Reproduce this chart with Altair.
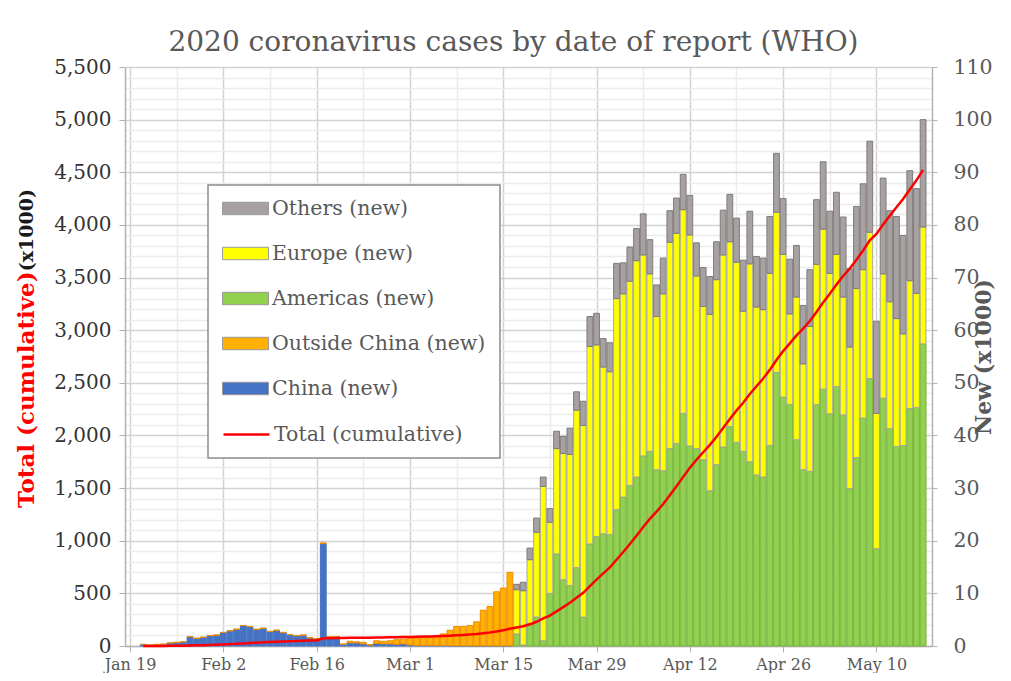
import altair as alt
import pandas as pd

# ---------------- data (daily new cases, thousands) ----------------
early_start = "2020-01-21"   # China / Outside China period
late_start = "2020-03-17"    # regional breakdown period

china_new = [0.3, 0.15, 0.29, 0.33, 0.57, 0.67, 0.76, 1.74, 1.45, 1.63, 1.97, 2.05,
             2.56, 2.87, 3.17, 3.88, 3.67, 3.15, 3.35, 2.74, 2.98, 2.53, 2.14, 1.95,
             2.03, 1.54, 1.35, 19.45, 1.7, 1.6, 0.3, 0.6, 0.6, 0.4, 0.2, 0.5, 0.4,
             0.4, 0.3, 0.4, 0.2, 0.1, 0.1, 0.1, 0.1, 0.1, 0.1, 0.05, 0.05, 0.02,
             0.02, 0.02, 0.01, 0.02, 0.02, 0.03]
outside_new = [0.0, 0.0, 0.01, 0.02, 0.03, 0.03, 0.04, 0.06, 0.05, 0.07, 0.03, 0.05,
               0.04, 0.03, 0.03, 0.02, 0.03, 0.05, 0.05, 0.06, 0.02, 0.07, 0.06, 0.05,
               0.07, 0.06, 0.05, 0.15, 0.1, 0.2, 0.1, 0.3, 0.2, 0.3, 0.05, 0.5, 0.5,
               0.6, 0.9, 0.9, 1.3, 1.4, 1.5, 1.7, 1.7, 2.2, 2.9, 3.65, 3.65, 3.88,
               4.58, 6.78, 7.49, 10.28, 10.98, 13.97]
americas_new = [2.3, 0.2, 4.3, 5.5, 1.0, 10.0, 17.5, 12.6, 11.5, 14.9, 5.5, 19.4,
                20.8, 21.3, 21.2, 25.9, 28.3, 30.5, 32.1, 36.1, 37.0, 33.5, 33.3,
                37.5, 38.5, 44.2, 38.0, 37.5, 35.4, 29.5, 34.5, 37.8, 41.7, 38.7,
                37.0, 35.0, 32.5, 32.1, 38.1, 52.0, 47.3, 45.9, 39.2, 33.5, 33.2,
                45.9, 48.8, 44.1, 49.3, 43.9, 29.9, 35.8, 43.3, 50.8, 18.5, 47.1,
                41.3, 37.9, 38.1, 45.1, 45.3, 57.4]
europe_new = [8.4, 10.3, 12.1, 16.1, 29.3, 13.5, 20.0, 24.0, 24.9, 29.9, 36.4, 37.5,
              36.4, 31.7, 30.9, 40.1, 38.6, 38.8, 41.1, 38.2, 33.7, 29.1, 33.6, 39.2,
              39.9, 38.7, 40.1, 32.8, 29.1, 33.5, 35.1, 36.5, 35.1, 34.2, 26.6, 37.6,
              31.9, 31.8, 32.7, 30.4, 27.1, 17.2, 27.1, 20.1, 27.5, 26.6, 30.4, 26.7,
              25.1, 22.4, 26.9, 32.1, 28.2, 27.8, 25.7, 23.6, 24.1, 24.3, 21.2, 24.3,
              21.7, 22.2]
others_new = [1.0, 1.6, 2.2, 2.7, 1.8, 2.6, 3.3, 3.2, 5.0, 3.5, 4.6, 5.7, 6.0, 5.4,
              5.5, 6.7, 5.9, 6.5, 6.1, 7.8, 6.5, 6.0, 6.8, 6.0, 6.7, 6.7, 7.5, 6.3,
              7.4, 7.2, 7.2, 8.5, 9.0, 8.4, 9.7, 10.0, 9.6, 9.8, 10.8, 11.2, 10.6,
              10.4, 9.8, 11.1, 10.8, 12.3, 12.8, 11.8, 11.8, 15.2, 14.9, 15.6, 16.3,
              17.3, 17.5, 18.2, 17.3, 19.4, 18.7, 20.9, 19.9, 20.4]

series_names = ["Others (new)", "Europe (new)", "Americas (new)",
                "Outside China (new)", "China (new)"]
fill_colors = ["#a7a1a1", "#ffff00", "#92d050", "#ffb000", "#4472c4"]
stroke_colors = ["#7f7b7b", "#a6a6a6", "#74b33a", "#f08c00", "#4472c4"]
stack_rank = {"China (new)": 0, "Outside China (new)": 1, "Americas (new)": 2,
              "Europe (new)": 3, "Others (new)": 4}
line_name = "Total (cumulative)"

week_ticks = pd.date_range("2020-01-19", "2020-05-10", freq="7D")

# ---------------- long table ----------------
rows = []
for d, c, o in zip(pd.date_range(early_start, periods=len(china_new), freq="D"),
                   china_new, outside_new):
    ds = d.strftime("%Y-%m-%d")
    rows.append({"date": ds, "series": "China (new)", "value": c})
    rows.append({"date": ds, "series": "Outside China (new)", "value": o})
for d, a, e, t in zip(pd.date_range(late_start, periods=len(americas_new), freq="D"),
                      americas_new, europe_new, others_new):
    ds = d.strftime("%Y-%m-%d")
    rows.append({"date": ds, "series": "Americas (new)", "value": a})
    rows.append({"date": ds, "series": "Europe (new)", "value": e})
    rows.append({"date": ds, "series": "Others (new)", "value": t})
df = pd.DataFrame(rows)
df["rank"] = df["series"].map(stack_rank)

FONT = "DejaVu Serif"
major_test = "round((datum.value - utc(2020,0,19)) / 86400000) % 14 === 0"

x_enc = alt.X(
    "date:T",
    scale=alt.Scale(type="utc",
                    domain=[alt.DateTime(year=2020, month=1, date=19, utc=True),
                            alt.DateTime(year=2020, month=5, date=17, hours=14, utc=True)]),
    axis=alt.Axis(
        values=[alt.DateTime(year=t.year, month=t.month, date=t.day, utc=True) for t in week_ticks],
        labelExpr=f"{major_test} ? utcFormat(datum.value, '%b %-d') : ''",
        labelOverlap=False,
        labelFont=FONT, labelFontSize=16, labelColor="#595959", labelPadding=4,
        grid=True,
        gridColor={"condition": {"test": major_test, "value": "#d2d2d2"}, "value": "#ececec"},
        gridWidth=1.5,
        tickColor="#b3b3b3", tickSize=6,
        tickOpacity={"condition": {"test": major_test, "value": 1}, "value": 0},
        domainColor="#b3b3b3", domainWidth=1.5,
        title=None,
    ),
)

bars = alt.Chart(df).mark_bar(size=5.8, strokeWidth=1).encode(
    x=x_enc,
    y=alt.Y("value:Q", stack="zero",
            scale=alt.Scale(domain=[0, 110], nice=False),
            axis=alt.Axis(orient="right", values=list(range(0, 111, 10)), grid=False,
                          labelFont=FONT, labelFontSize=20.5, labelColor="#595959",
                          labelPadding=16, tickSize=5, tickColor="#b3b3b3",
                          domainColor="#b3b3b3", domainWidth=1.5,
                          title="New (x1000)", titleFont=FONT, titleFontSize=22,
                          titleFontWeight="bold", titleColor="#595959",
                          titleAngle=270, titlePadding=3)),
    fill=alt.Fill("series:N", scale=alt.Scale(domain=series_names, range=fill_colors),
                  legend=alt.Legend(title=None, orient="none", legendX=97, legendY=118,
                                    symbolType="M-1,-0.27L1,-0.27L1,0.27L-1,0.27Z",
                                    symbolSize=2116, symbolStrokeWidth=1,
                                    symbolStrokeColor="#9a9a9a", symbolOpacity=1,
                                    labelFont=FONT, labelFontSize=20.5, labelColor="#595959",
                                    labelOffset=3, labelLimit=400, rowPadding=11)),
    stroke=alt.Stroke("series:N", scale=alt.Scale(domain=series_names, range=stroke_colors),
                      legend=None),
    order=alt.Order("rank:Q"),
)

line = alt.Chart(df).transform_aggregate(
    total="sum(value)", groupby=["date"]
).transform_window(
    cum="sum(total)", sort=[alt.SortField("date")]
).transform_calculate(
    lbl=f"'{line_name}'"
).mark_line(strokeWidth=2.5).encode(
    x=x_enc,
    y=alt.Y("cum:Q", scale=alt.Scale(domain=[0, 5500], nice=False),
            axis=alt.Axis(orient="left", values=list(range(0, 5501, 100)),
                          labelExpr="datum.value % 500 === 0 ? format(datum.value, ',') : ''",
                          labelOverlap=False,
                          labelFont=FONT, labelFontSize=20, labelColor="#333333",
                          labelPadding=8, tickSize=6, tickColor="#b3b3b3",
                          tickOpacity={"condition": {"test": "datum.value % 500 === 0", "value": 1}, "value": 0},
                          grid=True,
                          gridColor={"condition": {"test": "datum.value % 500 === 0", "value": "#d2d2d2"}, "value": "#ececec"},
                          gridWidth=1.5,
                          domainColor="#b3b3b3", domainWidth=1.5, title=None)),
    stroke=alt.Stroke("lbl:N", scale=alt.Scale(domain=[line_name], range=["#ff0000"]),
                      legend=alt.Legend(title=None, orient="none", legendX=97, legendY=343,
                                        symbolType="stroke", symbolSize=2116,
                                        symbolStrokeWidth=2.5,
                                        labelFont=FONT, labelFontSize=20.5, labelColor="#595959",
                                        labelOffset=3, labelLimit=400)),
)

one = pd.DataFrame({"k": [0]})
legend_box = alt.Chart(one).mark_rect(fill="white", stroke="#8c8c8c", strokeWidth=1.5).encode(
    x=alt.value(83), x2=alt.value(375), y=alt.value(118), y2=alt.value(391))

ttl_red = alt.Chart(pd.DataFrame({"t": ["Total (cumulative)"]})).mark_text(
    angle=270, align="left", baseline="middle", font=FONT, fontSize=23,
    fontWeight="bold", color="#ff0000").encode(
    text="t:N", x=alt.value(-98), y=alt.value(441))
ttl_blk = alt.Chart(pd.DataFrame({"t": ["(x1000)"]})).mark_text(
    angle=270, align="right", baseline="middle", font=FONT, fontSize=19,
    fontWeight="bold", color="#1a1a1a").encode(
    text="t:N", x=alt.value(-98), y=alt.value(122))

chart = alt.layer(bars, line, legend_box, ttl_red, ttl_blk).resolve_scale(
    y="independent", stroke="independent"
).properties(
    width=807, height=579,
    padding={"left": 117, "top": 59, "right": 71, "bottom": 27},
    autosize=alt.AutoSizeParams(type="none"),
    title=alt.TitleParams("2020 coronavirus cases by date of report (WHO)",
                          font=FONT, fontSize=28, fontWeight="normal",
                          color="#595959", anchor="middle", dx=-15, offset=0),
).configure_view(stroke="transparent")

chart.save("out.html", embed_options={"renderer": "svg", "actions": False})
